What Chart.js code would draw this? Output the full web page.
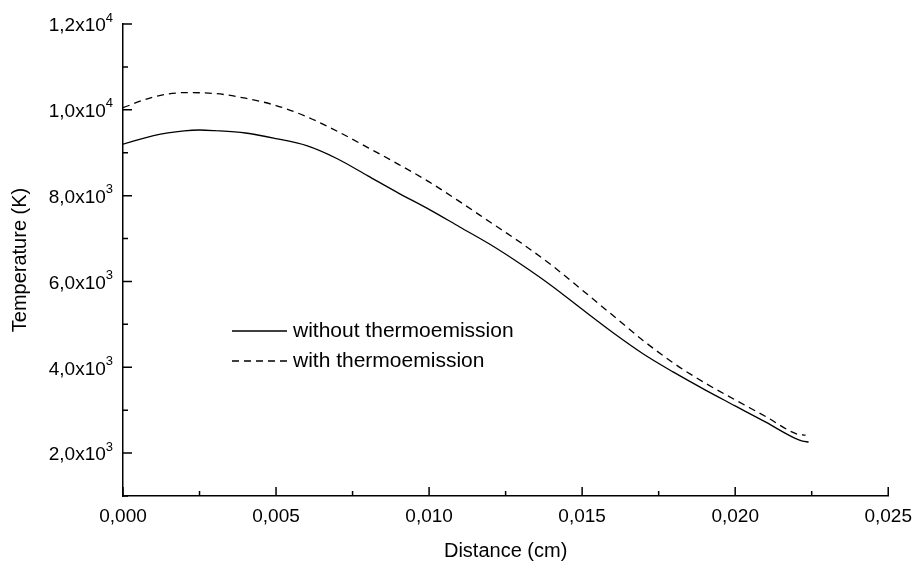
<!DOCTYPE html>
<html>
<head>
<meta charset="utf-8">
<script src="https://cdn.jsdelivr.net/npm/chart.js@4.4.0/dist/chart.umd.min.js"></script>
<style>
  html, body { margin: 0; padding: 0; background: #fff; }
  #wrap { width: 921px; height: 568px; }
</style>
</head>
<body>
<div id="wrap"><canvas id="tempChart" width="921" height="568"></canvas></div>
<script>
// distance (cm)
var distance = [0, 0.001, 0.002, 0.0025, 0.003, 0.004, 0.005, 0.006, 0.007, 0.008, 0.009,
  0.010, 0.011, 0.012, 0.013, 0.014, 0.015, 0.016, 0.017, 0.018, 0.019, 0.020, 0.021, 0.022, 0.0222, 0.0224];
// temperature (K) without thermoemission
var tempWithout = [9200, 9400, 9510, 9530, 9515, 9460, 9330, 9165, 8860, 8460, 8060,
  7680, 7270, 6860, 6400, 5900, 5350, 4810, 4310, 3880, 3480, 3100, 2720, 2330, 2280, 2258];
var distanceWith = [0, 0.001, 0.002, 0.003, 0.004, 0.005, 0.006, 0.007, 0.008, 0.009,
  0.010, 0.011, 0.012, 0.013, 0.014, 0.015, 0.016, 0.017, 0.018, 0.019, 0.020, 0.021, 0.022, 0.0223];
// temperature (K) with thermoemission
var tempWith = [10050, 10300, 10400, 10380, 10270, 10100, 9840, 9500, 9120, 8730,
  8320, 7860, 7380, 6900, 6380, 5800, 5210, 4620, 4090, 3640, 3240, 2850, 2450, 2420];

var xTicks = [0, 0.005, 0.010, 0.015, 0.020, 0.025];
var yTicks = [2000, 4000, 6000, 8000, 10000, 12000];
var yTickLabels = [['2,0x10', '3'], ['4,0x10', '3'], ['6,0x10', '3'], ['8,0x10', '3'], ['1,0x10', '4'], ['1,2x10', '4']];
var seriesNames = ['without thermoemission', 'with thermoemission'];

var FONT = 'Liberation Sans, Arial, sans-serif';

function toPoints(xs, ys) {
  var pts = [];
  for (var i = 0; i < xs.length; i++) pts.push({x: xs[i], y: ys[i]});
  return pts;
}

// inward ticks, minor ticks, y labels with superscripts, inner legend
var axisDecor = {
  id: 'axisDecor',
  afterDraw: function(chart) {
    var ctx = chart.ctx;
    var xs = chart.scales.x, ys = chart.scales.y;
    var area = chart.chartArea;
    ctx.save();
    ctx.strokeStyle = '#000';
    ctx.lineWidth = 1.5;
    ctx.beginPath();
    for (var i = 0; i < xTicks.length; i++) {
      var px = xs.getPixelForValue(xTicks[i]);
      ctx.moveTo(px, area.bottom); ctx.lineTo(px, area.bottom - 9);
      if (i < xTicks.length - 1) {
        var mx = xs.getPixelForValue((xTicks[i] + xTicks[i + 1]) / 2);
        ctx.moveTo(mx, area.bottom); ctx.lineTo(mx, area.bottom - 5);
      }
    }
    for (var j = 0; j < yTicks.length; j++) {
      var py = ys.getPixelForValue(yTicks[j]);
      ctx.moveTo(area.left, py); ctx.lineTo(area.left + 9, py);
      var my = ys.getPixelForValue(yTicks[j] - 1000);
      ctx.moveTo(area.left, my); ctx.lineTo(area.left + 5, my);
    }
    ctx.stroke();

    // y tick labels
    ctx.fillStyle = '#000';
    ctx.textBaseline = 'middle';
    for (var k = 0; k < yTicks.length; k++) {
      var y = ys.getPixelForValue(yTicks[k]);
      ctx.font = '13px ' + FONT;
      var supW = ctx.measureText(yTickLabels[k][1]).width;
      var right = area.left - 10;
      ctx.textAlign = 'left';
      ctx.fillText(yTickLabels[k][1], right - supW, y - 6);
      ctx.font = '19px ' + FONT;
      ctx.textAlign = 'right';
      ctx.fillText(yTickLabels[k][0], right - supW, y + 2);
    }

    // legend
    var lx = area.left + 109, ly = area.top + 307;
    var dsets = chart.data.datasets;
    for (var d = 0; d < dsets.length; d++) {
      var yy = ly + d * 30;
      ctx.setLineDash(dsets[d].borderDash || []);
      ctx.lineWidth = dsets[d].borderWidth;
      ctx.beginPath();
      ctx.moveTo(lx, yy); ctx.lineTo(lx + 55, yy);
      ctx.stroke();
      ctx.setLineDash([]);
      ctx.font = '21px ' + FONT;
      ctx.textAlign = 'left';
      ctx.fillText(dsets[d].label, lx + 61, yy);
    }
    ctx.restore();
  }
};

var ctx = document.getElementById('tempChart');
var tempChart = new Chart(ctx, {
  type: 'line',
  data: {
    datasets: [
      {
        label: seriesNames[0],
        data: toPoints(distance, tempWithout),
        borderColor: '#000',
        borderWidth: 1.3,
        pointRadius: 0,
        cubicInterpolationMode: 'monotone',
        fill: false
      },
      {
        label: seriesNames[1],
        data: toPoints(distanceWith, tempWith),
        borderColor: '#000',
        borderWidth: 1.3,
        borderDash: [7, 5],
        pointRadius: 0,
        cubicInterpolationMode: 'monotone',
        fill: false
      }
    ]
  },
  options: {
    responsive: false,
    animation: false,
    layout: { padding: { top: 24, right: 28, left: 0, bottom: 0 } },
    plugins: {
      legend: { display: false },
      tooltip: { enabled: false }
    },
    scales: {
      x: {
        type: 'linear',
        min: 0,
        max: 0.025,
        afterBuildTicks: function(scale) {
          scale.ticks = xTicks.map(function(v) { return {value: v}; });
        },
        afterFit: function(scale) { scale.height = 72; },
        grid: { display: false, drawTicks: false },
        border: { display: true, color: '#000', width: 1.5 },
        ticks: {
          color: '#000',
          padding: 9,
          font: { family: FONT, size: 19 },
          maxRotation: 0,
          callback: function(v) { return v.toFixed(3).replace('.', ','); }
        },
        title: {
          display: true,
          text: 'Distance (cm)',
          color: '#000',
          font: { family: FONT, size: 20 },
          padding: { top: 0, bottom: 5 }
        }
      },
      y: {
        type: 'linear',
        min: 1000,
        max: 12000,
        afterBuildTicks: function(scale) {
          scale.ticks = yTicks.map(function(v) { return {value: v}; });
        },
        afterFit: function(scale) { scale.width = 123; },
        grid: { display: false, drawTicks: false },
        border: { display: true, color: '#000', width: 1.5 },
        ticks: { display: false },
        title: {
          display: true,
          text: 'Temperature (K)',
          color: '#000',
          font: { family: FONT, size: 20 },
          padding: { top: 8, bottom: 0 }
        }
      }
    }
  },
  plugins: [axisDecor]
});
</script>
</body>
</html>
